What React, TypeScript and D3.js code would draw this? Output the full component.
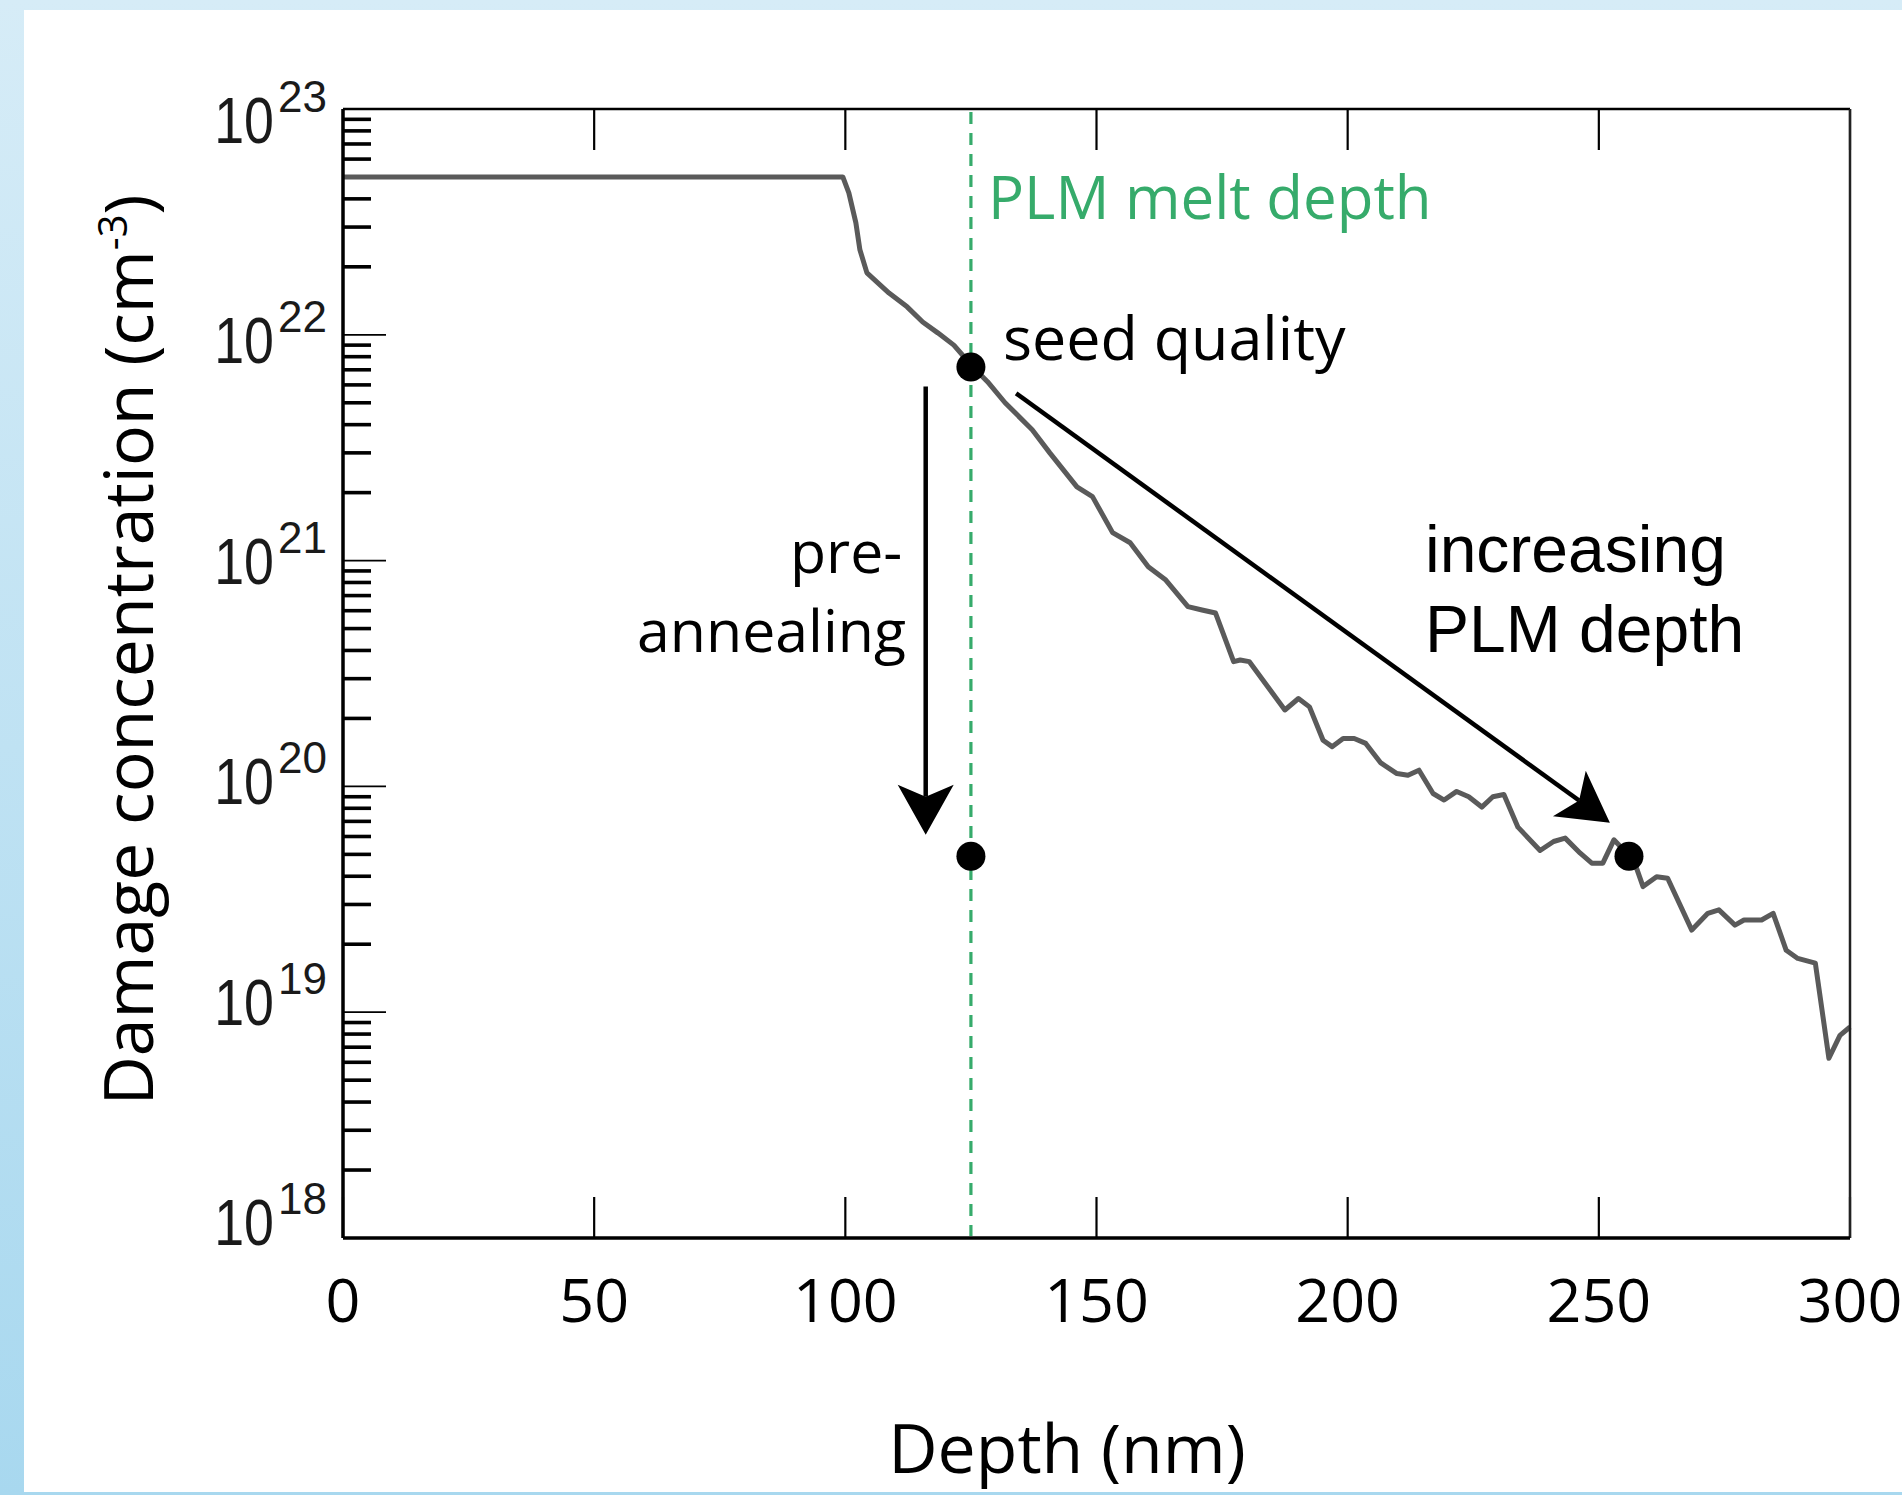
import React from "react";
import * as d3 from "d3";

// depth profile (nm) and damage concentration (cm^-3)
const depth = [
  0, 99.5, 100.7, 102.1, 102.9, 104.3, 108.7, 112.3, 115.4, 118.4, 121.6, 125.4,
  128.3, 131.8, 137.2, 140.7, 146.1, 149.2, 153.2, 156.7, 160.3, 163.8, 168.2,
  171.0, 173.7, 177.3, 178.6, 180.4, 187.5, 190.2, 192.4, 195.1, 196.9, 199.1,
  201.3, 203.6, 206.6, 209.8, 212.0, 214.2, 217.0, 219.2, 221.7, 224.1, 226.7,
  228.9, 231.1, 233.9, 238.3, 241.0, 243.3, 246.3, 248.6, 250.8, 253.0, 256.1,
  257.4, 258.8, 261.5, 263.7, 268.5, 271.7, 273.9, 277.1, 278.9, 282.4, 284.7,
  287.3, 289.6, 293.1, 295.8, 298.0, 300.0,
];
const damage = [
  5.0e22, 5.0e22, 4.25e22, 3.13e22, 2.38e22, 1.88e22, 1.53e22, 1.33e22, 1.14e22,
  1.02e22, 9.0e21, 7.2e21, 6.2e21, 5.0e21, 3.8e21, 3.0e21, 2.12e21, 1.92e21,
  1.33e21, 1.2e21, 9.4e20, 8.2e20, 6.25e20, 6.04e20, 5.86e20, 3.57e20, 3.63e20,
  3.57e20, 2.18e20, 2.45e20, 2.25e20, 1.6e20, 1.5e20, 1.63e20, 1.63e20, 1.55e20,
  1.27e20, 1.14e20, 1.12e20, 1.18e20, 9.3e19, 8.7e19, 9.5e19, 9.0e19, 8.1e19,
  9.0e19, 9.2e19, 6.6e19, 5.2e19, 5.7e19, 5.9e19, 5.06e19, 4.57e19, 4.57e19,
  5.8e19, 4.92e19, 4.41e19, 3.6e19, 3.98e19, 3.92e19, 2.31e19, 2.74e19, 2.84e19,
  2.43e19, 2.56e19, 2.56e19, 2.74e19, 1.88e19, 1.73e19, 1.65e19, 6.25e18, 7.9e18,
  8.6e18,
];

const xTicks = [0, 50, 100, 150, 200, 250, 300];
const decades = [18, 19, 20, 21, 22, 23];
const meltDepth = 125;

// black dots
const dotDepth = [125, 125, 256];
const dotDamage = [7.2e21, 4.9e19, 4.9e19];

// annotation arrows: [fromDepth, fromDamage, toDepth, toDamage]
const arrowAnneal = [116, 5.9e21, 116, 6.1e19];
const arrowPlm = [134, 5.5e21, 252.2, 6.9e19];

const GREEN = "#36ab6b";
const CURVE = "#5a5a5a";
const MYRIAD = "'Open Sans', 'Noto Sans', sans-serif";
const HELV = "'Liberation Sans', Arial, sans-serif";

function Arrow({ x1, y1, x2, y2 }) {
  const len = Math.hypot(x2 - x1, y2 - y1);
  const ux = (x2 - x1) / len;
  const uy = (y2 - y1) / len;
  const nx = -uy;
  const ny = ux;
  const L = 50;
  const W = 28;
  const notch = 12;
  const bx = x2 - ux * L;
  const by = y2 - uy * L;
  const mx = x2 - ux * (L - notch);
  const my = y2 - uy * (L - notch);
  const head = `M${x2},${y2}L${bx + nx * W},${by + ny * W}L${mx},${my}L${bx - nx * W},${by - ny * W}Z`;
  return (
    <g>
      <line x1={x1} y1={y1} x2={mx} y2={my} stroke="#000" strokeWidth={4.5} />
      <path d={head} fill="#000" />
    </g>
  );
}

export default function App() {
  const width = 1902;
  const height = 1495;
  const margin = { left: 343, right: 52, top: 109, bottom: 257 };
  const x0 = margin.left;
  const x1 = width - margin.right;
  const y0 = margin.top;
  const y1 = height - margin.bottom;

  const xScale = d3.scaleLinear().domain([0, 300]).range([x0, x1]);
  const yScale = d3.scaleLog().domain([1e18, 1e23]).range([y1, y0]);
  // tick labels in the original sit on a slightly tighter spacing than the ticks
  const labelScale = d3.scaleLog().domain([1e18, 1e23]).range([1245, 143]);

  const points = depth.map((d, i) => [d, damage[i]]);
  const curve = d3
    .line()
    .x((d) => xScale(d[0]))
    .y((d) => yScale(d[1]))(points);

  const yTicks = yScale.ticks();

  return (
    <div style={{ position: "absolute", left: 0, top: 0 }}>
      <svg width={width} height={height} style={{ display: "block" }}>
        <defs>
          <linearGradient id="bg" x1="0" y1="0" x2="0" y2="1">
            <stop offset="0" stopColor="#d6ecf7" />
            <stop offset="1" stopColor="#a8d8ef" />
          </linearGradient>
        </defs>
        <rect x={0} y={0} width={width} height={height} fill="url(#bg)" />
        <rect x={24} y={10} width={width - 24} height={1482} fill="#fff" />

        {/* y ticks */}
        {yTicks.map((t) => {
          const major = Math.abs(Math.log10(t) - Math.round(Math.log10(t))) < 1e-9;
          return (
            <line
              key={"yt" + t}
              x1={x0}
              x2={x0 + (major ? 43 : 28)}
              y1={yScale(t)}
              y2={yScale(t)}
              stroke="#000"
              strokeWidth={major ? 1.8 : 3.6}
            />
          );
        })}

        {/* x ticks, top and bottom */}
        {xTicks.map((t) => (
          <g key={"xt" + t}>
            <line x1={xScale(t)} x2={xScale(t)} y1={y1} y2={y1 - 41} stroke="#000" strokeWidth={2.2} />
            <line x1={xScale(t)} x2={xScale(t)} y1={y0} y2={y0 + 41} stroke="#000" strokeWidth={2.2} />
            <text
              x={xScale(t)}
              y={1322}
              textAnchor="middle"
              fontFamily={MYRIAD}
              fontSize={61}
              fill="#000"
            >
              {t}
            </text>
          </g>
        ))}

        {/* y tick labels 10^n */}
        {decades.map((e) => {
          const by = labelScale(Math.pow(10, e));
          return (
            <g key={"yl" + e} fill="#1a1a1a" fontFamily={HELV}>
              <g transform={`translate(274,${by}) scale(0.84,1)`}>
                <text x={0} y={0} textAnchor="end" fontSize={64}>
                  10
                </text>
              </g>
              <text x={278} y={by - 31} fontSize={44}>
                {e}
              </text>
            </g>
          );
        })}

        {/* melt depth */}
        <line
          x1={xScale(meltDepth)}
          x2={xScale(meltDepth)}
          y1={y0 + 3}
          y2={y1 - 2}
          stroke={GREEN}
          strokeWidth={3.2}
          strokeDasharray="12 9"
        />
        <text x={988} y={219} fontFamily={MYRIAD} fontSize={60} fill={GREEN}>
          PLM melt depth
        </text>

        {/* damage profile */}
        <path d={curve} fill="none" stroke={CURVE} strokeWidth={5} strokeLinejoin="round" />

        {/* frame */}
        <line x1={x0} x2={x1} y1={y0} y2={y0} stroke="#000" strokeWidth={2.5} />
        <line x1={x1} x2={x1} y1={y0} y2={y1} stroke="#222" strokeWidth={2.5} />
        <line x1={x0} x2={x1} y1={y1} y2={y1} stroke="#000" strokeWidth={3.5} />
        <line x1={x0} x2={x0} y1={y0} y2={y1} stroke="#000" strokeWidth={3.5} />

        {/* arrows */}
        <Arrow
          x1={xScale(arrowAnneal[0])}
          y1={yScale(arrowAnneal[1])}
          x2={xScale(arrowAnneal[2])}
          y2={yScale(arrowAnneal[3])}
        />
        <Arrow
          x1={xScale(arrowPlm[0])}
          y1={yScale(arrowPlm[1])}
          x2={xScale(arrowPlm[2])}
          y2={yScale(arrowPlm[3])}
        />

        {/* dots */}
        {dotDepth.map((d, i) => (
          <circle key={"dot" + i} cx={xScale(d)} cy={yScale(dotDamage[i])} r={14.5} fill="#000" />
        ))}

        {/* annotations */}
        <text x={1003} y={360} fontFamily={MYRIAD} fontSize={61} fill="#000">
          seed quality
        </text>
        <text fontFamily={MYRIAD} fontSize={59} fill="#000">
          <tspan x={790} y={573}>pre-</tspan>
          <tspan x={637} y={652}>annealing</tspan>
        </text>
        <text fontFamily={HELV} fontSize={66} fill="#000">
          <tspan x={1425} y={572}>increasing</tspan>
          <tspan x={1425} y={652}>PLM depth</tspan>
        </text>

        {/* axis titles */}
        <text
          transform="translate(153,650) rotate(-90)"
          textAnchor="middle"
          fontFamily={MYRIAD}
          fontSize={68}
          fill="#000"
        >
          Damage concentration (cm
          <tspan dy={-26} fontSize={40}>
            -3
          </tspan>
          <tspan dy={26}>)</tspan>
        </text>
        <text x={1067} y={1473} textAnchor="middle" fontFamily={MYRIAD} fontSize={68} fill="#000">
          Depth (nm)
        </text>
      </svg>
    </div>
  );
}
